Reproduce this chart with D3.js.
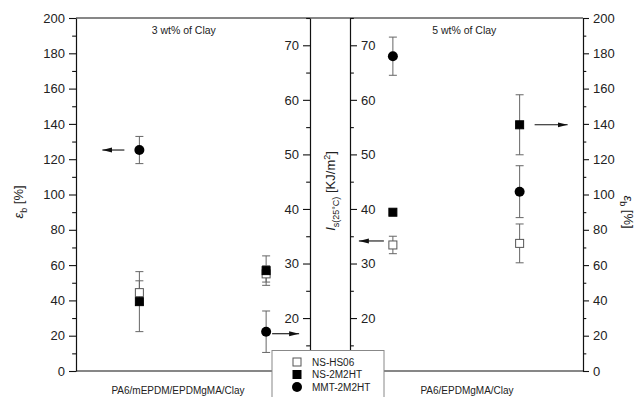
<!DOCTYPE html>
<html>
<head>
<meta charset="utf-8">
<script src="https://cdn.jsdelivr.net/npm/d3@7"></script>
<style>
  body { margin: 0; background: #fff; }
  text { font-family: "Liberation Sans", Arial, sans-serif; fill: #222; }
</style>
</head>
<body>
<div id="vis"></div>
<script>

// slots along the x axis: two panels, each with an eb group and an Is group
var slots = ['3wt-eb', '3wt-Is', '5wt-Is', '5wt-eb'];
var slotAxis = ['eb', 'Is', 'Is', 'eb'];
var categories = ['PA6/mEPDM/EPDMgMA/Clay', 'PA6/EPDMgMA/Clay'];
var panelTitles = ['3 wt% of Clay', '5 wt% of Clay'];

var seriesNames = ['NS-HS06', 'NS-2M2HT', 'MMT-2M2HT'];
var nsHs06 = [44.4, 28.1, 33.4, 72.3];
var nsHs06Err = [6.7, 1.5, 1.6, 11];
var ns2m2ht = [39.3, 28.7, 39.4, 139.5];
var ns2m2htErr = [17, 2.7, 0.4, 17];
var mmt2m2ht = [125.2, 17.5, 68, 101.6];
var mmt2m2htErr = [7.7, 3.8, 3.5, 14.7];

var ebTicks = [0, 20, 40, 60, 80, 100, 120, 140, 160, 180, 200];
var isTicks = [20, 30, 40, 50, 60, 70];

// arrows telling which axis a group belongs to
var arrows = [
  { slot: '3wt-eb', series: 2, dir: -1 },
  { slot: '3wt-Is', series: 2, dir: 1 },
  { slot: '5wt-Is', series: 0, dir: -1 },
  { slot: '5wt-eb', series: 1, dir: 1 }
];

var width = 640;
var height = 397;
var plotL = 76, plotR = 583, plotT = 18, plotB = 371;
var midL = 310, midR = 350;

var svg = d3.select('#vis').append('svg')
  .attr('width', width)
  .attr('height', height);

var x = d3.scalePoint().domain(slots).range([plotL, plotR]).padding(0.5);
var yEb = d3.scaleLinear().domain([0, 200]).range([plotB, plotT]);
var yIs = d3.scaleLinear().domain([10.3, 75]).range([plotB, plotT]);

function yFor(slot, v) {
  return slotAxis[slots.indexOf(slot)] === 'eb' ? yEb(v) : yIs(v);
}

// frame
svg.append('line').attr('x1', plotL).attr('x2', plotR).attr('y1', plotT).attr('y2', plotT)
  .attr('stroke', '#111').attr('stroke-width', 1.2);
svg.append('line').attr('x1', plotL).attr('x2', plotR).attr('y1', plotB).attr('y2', plotB)
  .attr('stroke', '#111').attr('stroke-width', 1.2);

function minorTicks(values) {
  var out = [];
  for (var i = 0; i < values.length - 1; i++) out.push((values[i] + values[i + 1]) / 2);
  return out;
}

function drawAxis(axisFn, scale, xpos, ticks, minors, size) {
  var g = svg.append('g').attr('transform', 'translate(' + xpos + ',0)');
  g.call(axisFn(scale).tickValues(ticks).tickSize(size).tickPadding(4).tickSizeOuter(0));
  g.selectAll('text').style('font-size', '13px').style('font-family', '"Liberation Sans", Arial, sans-serif').attr('fill', '#222');
  g.selectAll('line').attr('stroke', '#111').attr('stroke-width', 1.1);
  g.select('.domain').attr('stroke', '#111').attr('stroke-width', 1.2);
  var m = svg.append('g').attr('transform', 'translate(' + xpos + ',0)');
  m.call(axisFn(scale).tickValues(minors).tickSize(size * 0.55).tickFormat('').tickSizeOuter(0));
  m.select('.domain').remove();
  m.selectAll('line').attr('stroke', '#111').attr('stroke-width', 1.1);
}

var ebMinor = minorTicks(ebTicks);
var isMinor = [15].concat(minorTicks(isTicks)).concat([75]);

drawAxis(d3.axisLeft, yEb, plotL, ebTicks, ebMinor, 7);
drawAxis(d3.axisRight, yEb, plotR, ebTicks, ebMinor, 6);
drawAxis(d3.axisLeft, yIs, midL, isTicks, isMinor, 7);
drawAxis(d3.axisRight, yIs, midR, isTicks, isMinor, 7);

// axis titles
var lt = svg.append('text').attr('transform', 'translate(23,202) rotate(-90)')
  .attr('text-anchor', 'middle').style('font-size', '13px');
lt.append('tspan').style('font-style', 'italic').text('ε');
lt.append('tspan').attr('dy', 4).style('font-size', '9px').text('b');
lt.append('tspan').attr('dy', -4).text(' [%]');

var rt = svg.append('text').attr('transform', 'translate(624,212) rotate(90)')
  .attr('text-anchor', 'middle').style('font-size', '13px');
rt.append('tspan').style('font-style', 'italic').text('ε');
rt.append('tspan').attr('dy', 4).style('font-size', '9px').text('b');
rt.append('tspan').attr('dy', -4).text(' [%]');

var ct = svg.append('text').attr('transform', 'translate(335,191) rotate(-90)')
  .attr('text-anchor', 'middle').style('font-size', '13px');
ct.append('tspan').style('font-style', 'italic').text('I');
ct.append('tspan').attr('dy', 4).style('font-size', '9px').text('s(25°C)');
ct.append('tspan').attr('dy', -4).text(' [KJ/m');
ct.append('tspan').attr('dy', -5).style('font-size', '9px').text('2');
ct.append('tspan').attr('dy', 5).text(']');

// panel titles and categories
var panelCenters = [(x(slots[0]) + x(slots[1])) / 2 - 19, (x(slots[2]) + x(slots[3])) / 2 + 8];
svg.selectAll('.ptitle').data(panelTitles).enter().append('text')
  .attr('x', function(d, i) { return panelCenters[i]; })
  .attr('y', 34)
  .attr('text-anchor', 'middle')
  .style('font-size', '10.5px')
  .text(function(d) { return d; });

var catCenters = [178, 467];
svg.selectAll('.cat').data(categories).enter().append('text')
  .attr('x', function(d, i) { return catCenters[i]; })
  .attr('y', 394)
  .attr('text-anchor', 'middle')
  .style('font-size', '10px')
  .text(function(d) { return d; });

// points
var values = [nsHs06, ns2m2ht, mmt2m2ht];
var errors = [nsHs06Err, ns2m2htErr, mmt2m2htErr];

var points = [];
values.forEach(function(vals, s) {
  vals.forEach(function(v, i) {
    points.push({ series: s, slot: slots[i], value: v, err: errors[s][i] });
  });
});

var bars = svg.append('g').attr('stroke', '#666').attr('stroke-width', 1);
points.forEach(function(p) {
  var cx = x(p.slot);
  var y1 = yFor(p.slot, p.value + p.err);
  var y2 = yFor(p.slot, p.value - p.err);
  bars.append('line').attr('x1', cx).attr('x2', cx).attr('y1', y1).attr('y2', y2);
  bars.append('line').attr('x1', cx - 4).attr('x2', cx + 4).attr('y1', y1).attr('y2', y1);
  bars.append('line').attr('x1', cx - 4).attr('x2', cx + 4).attr('y1', y2).attr('y2', y2);
});

function drawMarker(g, s, cx, cy) {
  if (s === 2) {
    g.append('circle').attr('cx', cx).attr('cy', cy).attr('r', 5).attr('fill', '#000');
  } else {
    g.append('rect').attr('x', cx - 4).attr('y', cy - 4).attr('width', 8).attr('height', 8)
      .attr('fill', s === 0 ? '#fff' : '#000')
      .attr('stroke', s === 0 ? '#555' : '#000').attr('stroke-width', 1);
  }
}

var marks = svg.append('g');
points.forEach(function(p) {
  drawMarker(marks, p.series, x(p.slot), yFor(p.slot, p.value));
});

// arrows
svg.append('defs').append('marker')
  .attr('id', 'head')
  .attr('viewBox', '0 0 10 6')
  .attr('refX', 10).attr('refY', 3)
  .attr('markerWidth', 10).attr('markerHeight', 6)
  .attr('markerUnits', 'userSpaceOnUse')
  .attr('orient', 'auto')
  .append('path').attr('d', 'M0,0.5 L10,3 L0,5.5 Z').attr('fill', '#111');

var arrowGap = { '3wt-eb': [15, 37], '3wt-Is': [6, 33], '5wt-Is': [9, 34], '5wt-eb': [15, 48] };
var arrowDy = { '3wt-eb': 0, '3wt-Is': 2, '5wt-Is': -4, '5wt-eb': 0 };
arrows.forEach(function(a) {
  var i = slots.indexOf(a.slot);
  var cx = x(a.slot);
  var cy = yFor(a.slot, values[a.series][i]) + arrowDy[a.slot];
  var g = arrowGap[a.slot];
  svg.append('line')
    .attr('x1', cx + a.dir * g[0]).attr('x2', cx + a.dir * g[1])
    .attr('y1', cy).attr('y2', cy)
    .attr('stroke', '#111').attr('stroke-width', 1.1)
    .attr('marker-end', 'url(#head)');
});

// legend
var lg = svg.append('g');
lg.append('rect').attr('x', 272).attr('y', 350.5).attr('width', 112).attr('height', 60)
  .attr('fill', '#fff').attr('stroke', '#888').attr('stroke-width', 1);
seriesNames.forEach(function(name, s) {
  var cy = 362 + s * 12.5;
  drawMarker(lg, s, 297, cy);
  lg.append('text').attr('x', 312).attr('y', cy + 3.5)
    .style('font-size', '10px').text(name);
});

</script>
</body>
</html>
